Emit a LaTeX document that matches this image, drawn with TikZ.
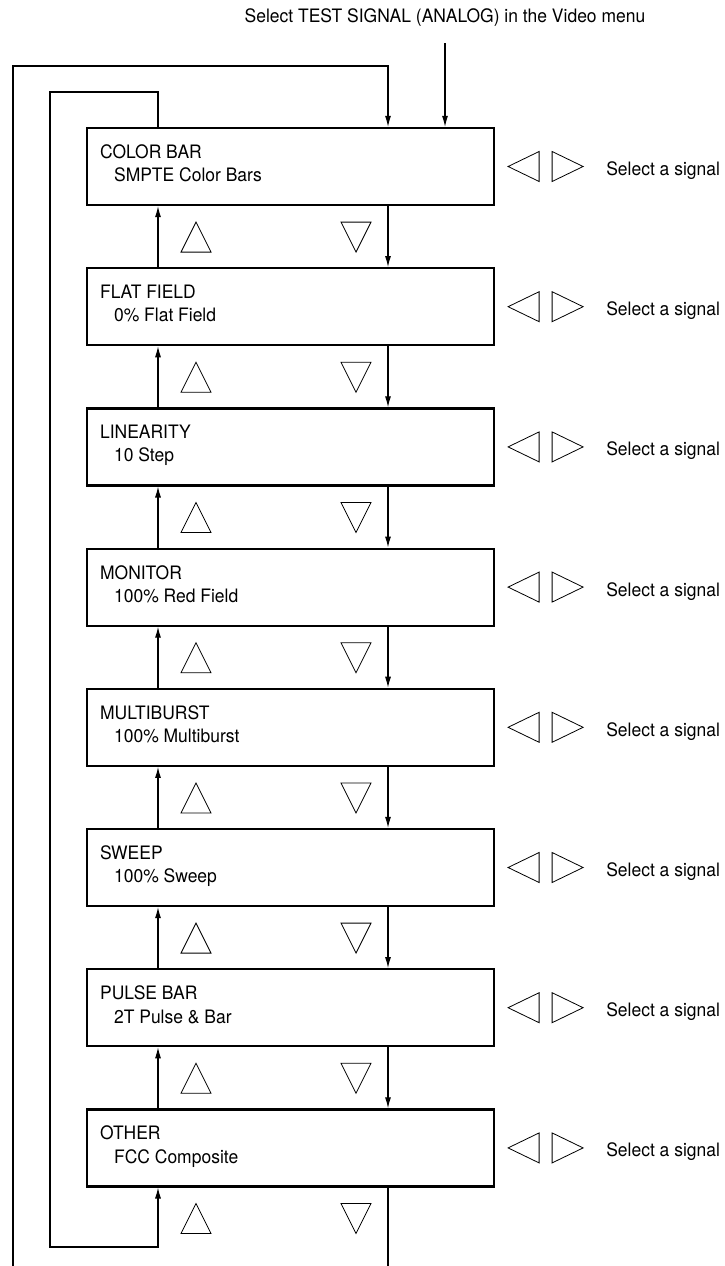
\documentclass[tikz,border=0pt]{standalone}
\usepackage{fontspec}
\setmainfont[FakeStretch=0.945]{TeX Gyre Heros}
\usetikzlibrary{arrows.meta,positioning}

\begin{document}
\begin{tikzpicture}[
  x=1pt,y=-1pt,
  node distance=61pt,
  menubox/.style={draw,line width=2.2pt,minimum width=407pt,minimum height=77pt,inner sep=0pt},
  menutext/.style={anchor=north west,inner sep=0pt,align=left,font=\fontsize{18.5}{23.5}\selectfont},
  hint/.style={anchor=west,inner sep=0pt,font=\fontsize{18.5}{22}\selectfont},
  arrow/.style={-{Latex[length=11pt,width=6pt]},line width=1.1pt},
  tri/.style={line width=0.8pt,line join=miter}
]
\useasboundingbox (0,0) rectangle (724,1266);
% columns of the connectors and the key triangles
\coordinate (up) at (158,0);
\coordinate (dn) at (388,0);
\coordinate (tu) at (196,0);
\coordinate (td) at (356,0);
\coordinate (innertop) at (50,92);
\coordinate (innerbot) at (50,1247);
\coordinate (outertop) at (13,66);
\coordinate (outerbot) at (13,1300);

% menu boxes
\node[menubox] (b1) at (290.5,166.5) {};
\node[menubox,below=of b1] (b2) {};
\node[menubox,below=of b2] (b3) {};
\node[menubox,below=of b3] (b4) {};
\node[menubox,below=of b4] (b5) {};
\node[menubox,below=of b5] (b6) {};
\node[menubox,below=of b6] (b7) {};
\node[menubox,below=of b7] (b8) {};

\node[menutext] (t1) at ([shift={(14,17.5)}]b1.north west) {COLOR BAR\\\hspace*{14pt}SMPTE Color Bars};
\node[menutext] (t2) at ([shift={(14,17.5)}]b2.north west) {FLAT FIELD\\\hspace*{14pt}0\% Flat Field};
\node[menutext] (t3) at ([shift={(14,17.5)}]b3.north west) {LINEARITY\\\hspace*{14pt}10 Step};
\node[menutext] (t4) at ([shift={(14,17.5)}]b4.north west) {MONITOR\\\hspace*{14pt}100\% Red Field};
\node[menutext] (t5) at ([shift={(14,17.5)}]b5.north west) {MULTIBURST\\\hspace*{14pt}100\% Multiburst};
\node[menutext] (t6) at ([shift={(14,17.5)}]b6.north west) {SWEEP\\\hspace*{14pt}100\% Sweep};
\node[menutext] (t7) at ([shift={(14,17.5)}]b7.north west) {PULSE BAR\\\hspace*{14pt}2T Pulse \& Bar};
\node[menutext] (t8) at ([shift={(14,17.5)}]b8.north west) {OTHER\\\hspace*{14pt}FCC Composite};

% left/right keys and up/down keys
\foreach \i in {1,...,8} {
  \draw[tri] ([xshift=13pt]b\i.east) -- ++(31,-15) -- ++(0,30) -- cycle;
  \draw[tri] ([xshift=57pt,yshift=15pt]b\i.east) -- ++(0,30) -- ++(31,-15) -- cycle;
  \node[hint] (s\i) at ([xshift=111pt,yshift=-4pt]b\i.east) {Select a signal};
  \draw[tri] (b\i.south -| tu) ++(0,16) -- ++(15,30) -- ++(-30,0) -- cycle;
  \draw[tri] (b\i.south -| td) ++(-15,16) -- ++(30,0) -- ++(-15,30) -- cycle;
}

% steps between boxes
\foreach \i in {1,...,7} {
  \pgfmathtruncatemacro\j{\i+1}
  \draw[arrow] (b\j.north -| up) -- (b\i.south -| up);
  \draw[arrow] (b\i.south -| dn) -- (b\j.north -| dn);
}

% wrap-around loops
\draw[arrow] (b1.north -| up) |- (innertop) -- (innerbot) -| (b8.south -| up);
\draw[arrow] (b8.south -| dn) |- (outerbot) -- (outertop) -| (b1.north -| dn);

% entry
\node[hint,anchor=center] (title) at (445,18) {Select TEST SIGNAL (ANALOG) in the Video menu};
\draw[arrow] ([yshift=-16pt]title.south) -- (b1.north -| title.south);
\end{tikzpicture}
\end{document}
